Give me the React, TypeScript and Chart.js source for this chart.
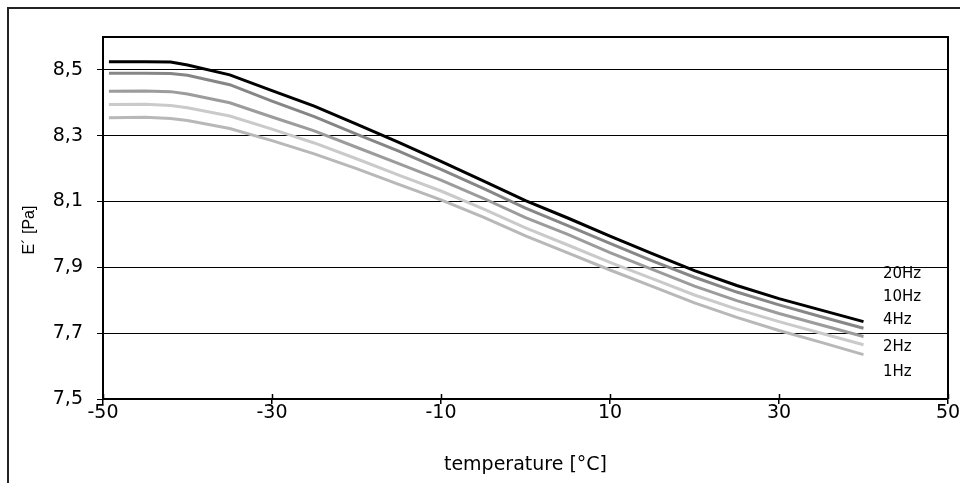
import React, { useEffect, useRef } from 'react';
import { Chart, registerables } from 'chart.js';

Chart.register(...registerables);

const temperatures = [-49.3, -45, -42, -40, -35, -30, -25, -20, -15, -10, -5, 0, 5, 10, 15, 20, 25, 30, 35, 40];
const e20Hz = [8.525, 8.525, 8.524, 8.515, 8.485, 8.437, 8.39, 8.335, 8.28, 8.222, 8.163, 8.103, 8.05, 7.995, 7.942, 7.89, 7.845, 7.805, 7.77, 7.735];
const e10Hz = [8.49, 8.49, 8.489, 8.484, 8.455, 8.405, 8.358, 8.305, 8.253, 8.198, 8.14, 8.08, 8.027, 7.973, 7.92, 7.87, 7.825, 7.786, 7.75, 7.715];
const e4Hz = [8.435, 8.436, 8.434, 8.427, 8.4, 8.357, 8.315, 8.265, 8.215, 8.165, 8.11, 8.051, 8.0, 7.945, 7.894, 7.843, 7.799, 7.76, 7.725, 7.69];
const e2Hz = [8.395, 8.396, 8.392, 8.385, 8.36, 8.32, 8.278, 8.23, 8.18, 8.132, 8.078, 8.02, 7.968, 7.915, 7.866, 7.816, 7.773, 7.735, 7.7, 7.665];
const e1Hz = [8.355, 8.356, 8.352, 8.346, 8.322, 8.285, 8.245, 8.2, 8.152, 8.105, 8.053, 7.996, 7.944, 7.892, 7.842, 7.792, 7.748, 7.708, 7.672, 7.635];

const seriesLabels = ['20Hz', '10Hz', '4Hz', '2Hz', '1Hz'];
const seriesValues = [e20Hz, e10Hz, e4Hz, e2Hz, e1Hz];
const seriesColors = ['#000000', '#868686', '#9c9c9c', '#cacaca', '#b8b8b8'];
const labelYValues = [7.878, 7.811, 7.741, 7.659, 7.582];
const labelXValue = 42.3;

const xTicks = [-50, -30, -10, 10, 30, 50];
const yTicks = [7.5, 7.7, 7.9, 8.1, 8.3, 8.5];
const xTitle = 'temperature [°C]';
const yTitle = 'E´ [Pa]';

const decor = {
  id: 'decor',
  afterDraw(chart: any) {
    const { ctx, chartArea: a, scales } = chart;
    ctx.save();
    // outer frame
    ctx.strokeStyle = '#222';
    ctx.lineWidth = 2;
    ctx.beginPath();
    ctx.moveTo(8, 483);
    ctx.lineTo(8, 8);
    ctx.lineTo(960, 8);
    ctx.stroke();
    // plot box top/right
    ctx.strokeStyle = '#000';
    ctx.lineWidth = 2;
    ctx.beginPath();
    ctx.moveTo(a.left, a.top);
    ctx.lineTo(a.right, a.top);
    ctx.lineTo(a.right, a.bottom);
    ctx.stroke();
    // inner x ticks
    ctx.lineWidth = 1.5;
    xTicks.forEach((v) => {
      const px = Math.round(scales.x.getPixelForValue(v)) + 0.5;
      ctx.beginPath();
      ctx.moveTo(px, a.bottom);
      ctx.lineTo(px, a.bottom - 5);
      ctx.stroke();
    });
    // series labels
    ctx.fillStyle = '#000';
    ctx.font = '15px "DejaVu Sans"';
    ctx.textBaseline = 'middle';
    ctx.textAlign = 'left';
    seriesLabels.forEach((t, i) => {
      ctx.fillText(t, scales.x.getPixelForValue(labelXValue), scales.y.getPixelForValue(labelYValues[i]));
    });
    // y title
    ctx.translate(30, (a.top + a.bottom) / 2 + 12);
    ctx.rotate(-Math.PI / 2);
    ctx.font = '16px "Liberation Sans"';
    ctx.textAlign = 'center';
    ctx.fillText(yTitle, 0, 0);
    ctx.restore();
  },
};

export default function App() {
  const ref = useRef<HTMLCanvasElement | null>(null);
  useEffect(() => {
    if (!ref.current) return;
    const chart = new Chart(ref.current, {
      type: 'line',
      data: {
        datasets: seriesLabels.map((label, i) => ({
          label,
          data: temperatures.map((t, j) => ({ x: t, y: seriesValues[i][j] })),
          borderColor: seriesColors[i],
          backgroundColor: seriesColors[i],
          borderWidth: 3,
          pointRadius: 0,
          tension: 0,
          fill: false,
        })),
      },
      options: {
        animation: false,
        responsive: true,
        maintainAspectRatio: false,
        layout: { padding: { left: 0, top: 37, right: 12, bottom: 0 } },
        plugins: { legend: { display: false }, tooltip: { enabled: false } },
        scales: {
          x: {
            type: 'linear',
            min: -50,
            max: 50,
            afterBuildTicks: (s: any) => {
              s.ticks = xTicks.map((v) => ({ value: v }));
            },
            afterFit: (s: any) => {
              s.height = 84;
            },
            grid: { display: true, drawOnChartArea: false, drawTicks: true, tickLength: 5, color: '#000', lineWidth: 1.5 },
            border: { display: true, color: '#000', width: 2 },
            ticks: {
              color: '#000',
              font: { family: 'DejaVu Sans', size: 19 },
              padding: -2,
              maxRotation: 0,
              autoSkip: false,
              callback: (v: any) => String(v),
            },
            title: {
              display: true,
              text: xTitle,
              color: '#000',
              font: { family: 'DejaVu Sans', size: 19 },
              padding: { top: 0, bottom: 7 },
            },
          },
          y: {
            type: 'linear',
            min: 7.5,
            max: 8.6,
            afterBuildTicks: (s: any) => {
              s.ticks = yTicks.map((v) => ({ value: v }));
            },
            afterFit: (s: any) => {
              s.width = 103;
            },
            grid: { color: '#000', lineWidth: 1, tickLength: 6, drawTicks: true },
            border: { display: true, color: '#000', width: 2 },
            ticks: {
              color: '#000',
              font: { family: 'DejaVu Sans', size: 19 },
              padding: 14,
              autoSkip: false,
              callback: (v: any) => Number(v).toFixed(1).replace('.', ','),
            },
          },
        },
      },
      plugins: [decor],
    });
    return () => chart.destroy();
  }, []);
  return (
    <div style={{ position: 'fixed', left: 0, top: 0, width: 960, height: 483, background: '#fff' }}>
      <canvas ref={ref} />
    </div>
  );
}
